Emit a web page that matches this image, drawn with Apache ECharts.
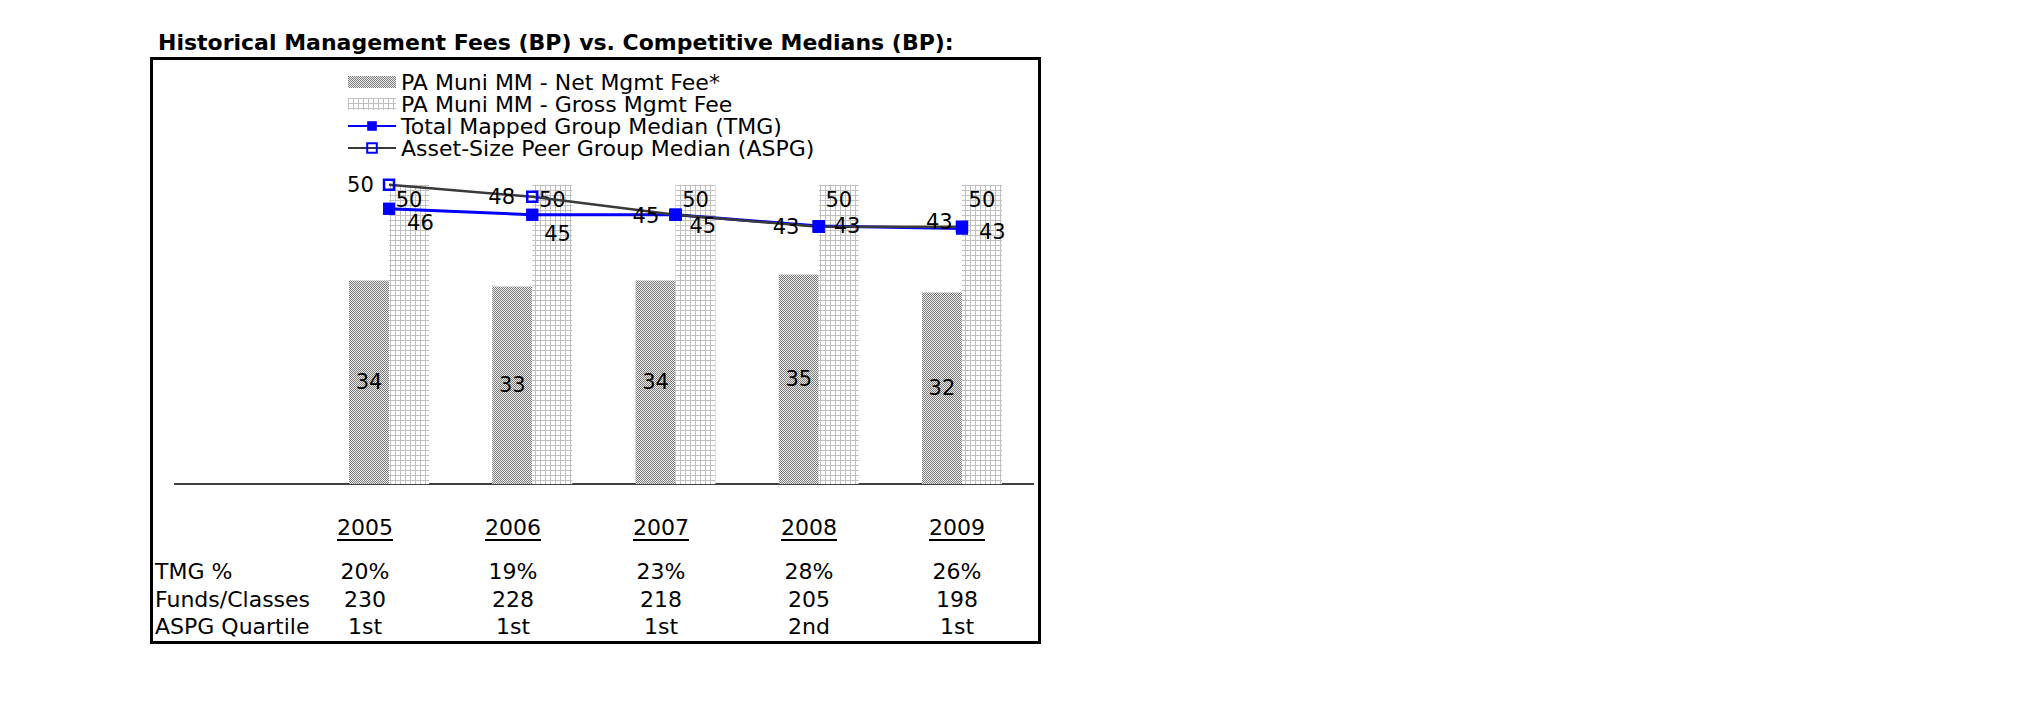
<!DOCTYPE html>
<html>
<head>
<meta charset="utf-8">
<script src="https://cdn.jsdelivr.net/npm/echarts@6/dist/echarts.min.js"></script>
<style>
html,body{margin:0;padding:0;background:#fff;}
#chart{width:2025px;height:717px;}
</style>
</head>
<body>
<div id="chart"></div>
<script>
// ---- data ----
const years = ['2005', '2006', '2007', '2008', '2009'];
const netFee = [34, 33, 34, 35, 32];
const grossFee = [50, 50, 50, 50, 50];
const tmgMedian = [46, 45, 45, 43.1, 42.7];
const aspgMedian = [50, 48, 45, 43, 43];
const rowLabels = ['TMG %', 'Funds/Classes', 'ASPG Quartile'];
const tmgPct = ['20%', '19%', '23%', '28%', '26%'];
const fundsClasses = ['230', '228', '218', '205', '198'];
const aspgQuartile = ['1st', '1st', '1st', '2nd', '1st'];
const seriesNames = ['PA Muni MM - Net Mgmt Fee*', 'PA Muni MM - Gross Mgmt Fee',
  'Total Mapped Group Median (TMG)', 'Asset-Size Peer Group Median (ASPG)'];
const titleText = 'Historical Management Fees (BP) vs. Competitive Medians (BP):';

// ---- style / layout ----
const FONT = '"DejaVu Sans", Verdana, sans-serif';
const FS = 22;      // legend + table text
const LFS = 21;     // data labels
const tmgLabelOffset = [[7, 14], [1, 19], [3, 11], [4, 0], [6, 3]];
const aspgLabelOffset = [[-4, 0], [-6, 0], [-5, 1], [-8, 0], [2, -5]];

function makePattern(kind) {
  const c = document.createElement('canvas');
  const ctx = c.getContext('2d');
  if (kind === 'net') {
    c.width = 4; c.height = 4;
    ctx.fillStyle = '#ececec'; ctx.fillRect(0, 0, 4, 4);
    ctx.fillStyle = '#7c7c7c';
    for (let y = 0; y < 4; y++) for (let x = 0; x < 4; x++) {
      if ((x + y) % 2 === 0) ctx.fillRect(x, y, 1, 1);
    }
  } else {
    c.width = 5; c.height = 5;
    ctx.fillStyle = '#ffffff'; ctx.fillRect(0, 0, 5, 5);
    ctx.fillStyle = '#c0c0c0';
    ctx.fillRect(0, 0, 5, 1); ctx.fillRect(0, 0, 1, 5);
  }
  return { image: c, repeat: 'repeat' };
}
const netPattern = makePattern('net');
const grossPattern = makePattern('gross');

const chart = echarts.init(document.getElementById('chart'), null, { renderer: 'svg' });

// table text elements built from the arrays
const colX0 = 365, colStep = 148;
const rowY = [571, 599, 626];
const yearY = 527;
const graphics = [];
function txt(x, y, text, align, font) {
  return { type: 'text', x: x, y: y, style: { text: text, font: font || (FS + 'px ' + FONT), fill: '#000', align: align, verticalAlign: 'middle', textAlign: align, textVerticalAlign: 'middle' } };
}
graphics.push(txt(158, 42, titleText, 'left', 'bold 22px ' + FONT));
graphics.push({ type: 'rect', shape: { x: 151.5, y: 58.5, width: 888, height: 584 }, style: { fill: 'none', stroke: '#000', lineWidth: 3 } });
graphics.push({ type: 'line', shape: { x1: 174, y1: 484, x2: 1034, y2: 484 }, style: { stroke: '#000', lineWidth: 1.5 } });
years.forEach((yr, i) => {
  const x = colX0 + i * colStep;
  graphics.push(txt(x, yearY, yr, 'center'));
  graphics.push({ type: 'line', shape: { x1: x - 28, y1: yearY + 13, x2: x + 28, y2: yearY + 13 }, style: { stroke: '#000', lineWidth: 2 } });
});
const rows = [tmgPct, fundsClasses, aspgQuartile];
rowLabels.forEach((lab, r) => {
  graphics.push(txt(155, rowY[r], lab, 'left'));
  rows[r].forEach((v, i) => {
    graphics.push(txt(colX0 + i * colStep, rowY[r], v, 'center'));
  });
});

const labelBase = { show: true, color: '#000', fontSize: LFS, fontFamily: FONT };

const option = {
  animation: false,
  backgroundColor: '#fff',
  textStyle: { fontFamily: FONT },
  grid: { left: 317.4, right: 991.4, top: 125, bottom: 233 },
  legend: {
    orient: 'vertical', left: 347, top: 71, padding: 0,
    itemWidth: 48, itemHeight: 12, itemGap: 0, selectedMode: false,
    textStyle: { fontSize: FS, fontFamily: FONT, color: '#000', lineHeight: 20 },
    data: [
      { name: seriesNames[0], icon: 'rect' },
      { name: seriesNames[1], icon: 'rect' },
      { name: seriesNames[2] },
      { name: seriesNames[3] }
    ]
  },
  xAxis: {
    type: 'category', data: years,
    axisLine: { show: false }, axisTick: { show: false }, axisLabel: { show: false }, splitLine: { show: false }
  },
  yAxis: {
    type: 'value', min: 0, max: 60, show: false, splitLine: { show: false }
  },
  graphic: { elements: graphics },
  series: [
    {
      name: seriesNames[0], type: 'bar', data: netFee, barWidth: 40, barGap: '0%', z: 2,
      itemStyle: { color: netPattern },
      label: Object.assign({}, labelBase, { position: 'inside' })
    },
    {
      name: seriesNames[1], type: 'bar', data: grossFee, barWidth: 40, barGap: '0%', z: 2,
      itemStyle: { color: grossPattern },
      label: Object.assign({}, labelBase, { position: 'insideTop', distance: 5 })
    },
    {
      name: seriesNames[2], type: 'line', data: tmgMedian, z: 3,
      symbol: 'rect', symbolSize: 12,
      itemStyle: { color: '#0000ff' },
      lineStyle: { color: '#0000ff', width: 3 }
    },
    {
      name: seriesNames[3], type: 'line', z: 4,
      data: aspgMedian.map((v, i) => ({ value: v, label: { offset: aspgLabelOffset[i] } })),
      symbol: 'rect', symbolSize: 10,
      itemStyle: { color: 'rgba(255,255,255,0)', borderColor: '#0000ff', borderWidth: 2.5 },
      lineStyle: { color: '#3a3a3a', width: 2.5 },
      label: Object.assign({}, labelBase, { position: 'left', distance: 5, formatter: p => Math.round(p.value) })
    },
    {
      name: 'TMG markers', type: 'scatter', z: 5,
      data: tmgMedian.map((v, i) => ({ value: v, label: { offset: tmgLabelOffset[i] } })),
      symbol: 'rect', symbolSize: 12,
      itemStyle: { color: '#0000ff', opacity: 1 },
      label: Object.assign({}, labelBase, { position: 'right', distance: 5, formatter: p => Math.round(p.value) })
    }
  ]
};
chart.setOption(option);
</script>
</body>
</html>
